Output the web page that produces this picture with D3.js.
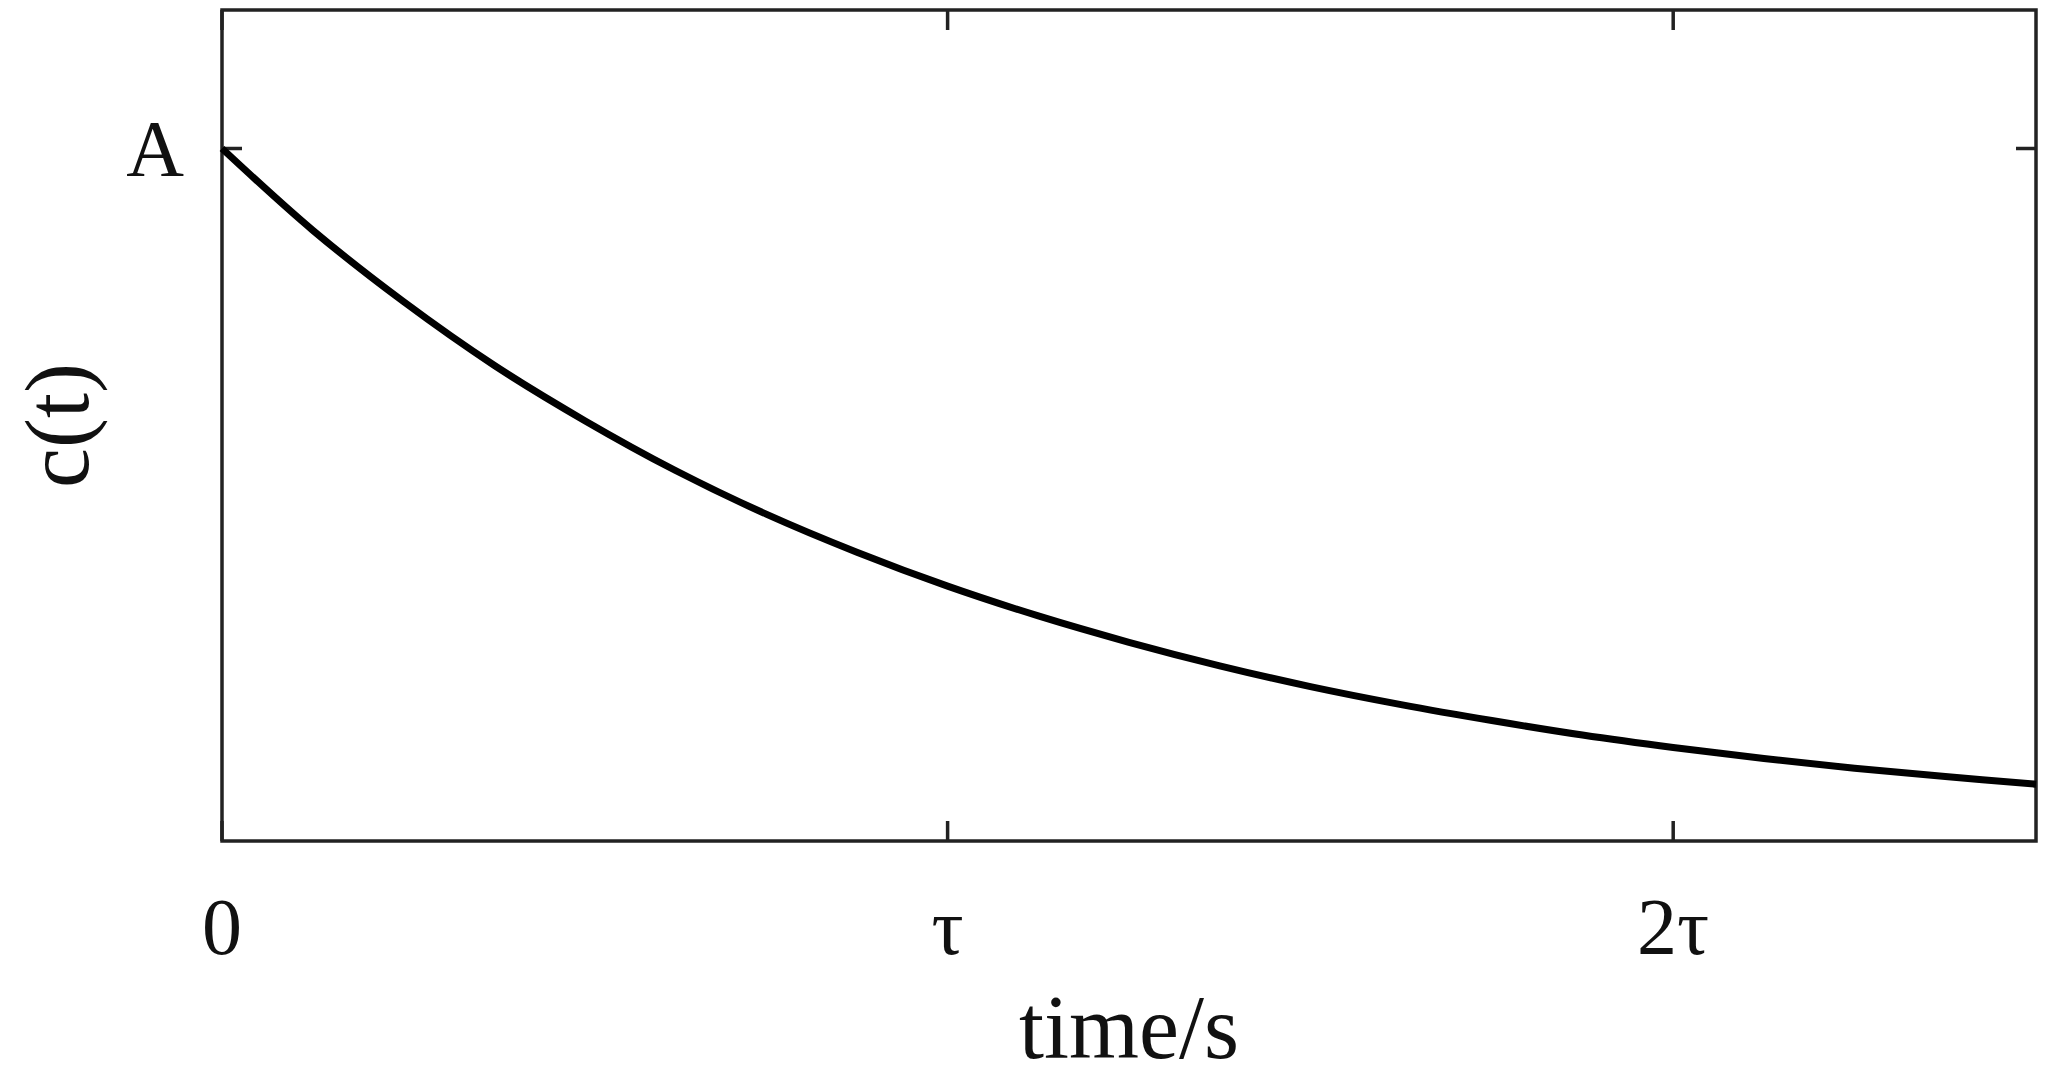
<!DOCTYPE html>
<html>
<head>
<meta charset="utf-8">
<script src="https://cdn.jsdelivr.net/npm/d3@7"></script>
<style>
  body { margin: 0; background: #fff; }
  text { font-family: "Liberation Serif", "DejaVu Serif", serif; fill: #111; }
</style>
</head>
<body>
<svg id="chart" width="2046" height="1079"></svg>
<script>
// time in units of tau, values in units of A
var times = [0, 0.125, 0.25, 0.375, 0.5, 0.625, 0.75, 0.875, 1, 1.125, 1.25,
             1.375, 1.5, 1.625, 1.75, 1.875, 2, 2.125, 2.25, 2.375, 2.5];
var values = [1, 0.882, 0.779, 0.687, 0.607, 0.535, 0.472, 0.417, 0.368, 0.325, 0.287,
              0.253, 0.223, 0.197, 0.174, 0.153, 0.135, 0.119, 0.105, 0.093, 0.082];
var xTicks = [0, 1, 2];
var xTickLabels = ["0", "τ", "2τ"];
var yTicks = [1];
var yTickLabels = ["A"];

var margin = {left: 222, right: 10, top: 10, bottom: 238};
var width = 2046, height = 1079;
var svg = d3.select("#chart");

var x = d3.scaleLinear().domain([0, 2.5]).range([margin.left, width - margin.right]);
var y = d3.scaleLinear().domain([0, 1.2]).range([height - margin.bottom, margin.top]);

var tickLen = 20;
// frame
svg.append("rect")
  .attr("x", x(0)).attr("y", y(1.2))
  .attr("width", x(2.5) - x(0)).attr("height", y(0) - y(1.2))
  .attr("fill", "none").attr("stroke", "#222").attr("stroke-width", 3.5);

// inward ticks, all four sides
xTicks.forEach(function(t) {
  svg.append("line").attr("x1", x(t)).attr("x2", x(t))
    .attr("y1", y(0)).attr("y2", y(0) - tickLen).attr("stroke", "#222").attr("stroke-width", 3.5);
  svg.append("line").attr("x1", x(t)).attr("x2", x(t))
    .attr("y1", y(1.2)).attr("y2", y(1.2) + tickLen).attr("stroke", "#222").attr("stroke-width", 3.5);
});
yTicks.forEach(function(v) {
  svg.append("line").attr("x1", x(0)).attr("x2", x(0) + tickLen)
    .attr("y1", y(v)).attr("y2", y(v)).attr("stroke", "#222").attr("stroke-width", 3.5);
  svg.append("line").attr("x1", x(2.5)).attr("x2", x(2.5) - tickLen)
    .attr("y1", y(v)).attr("y2", y(v)).attr("stroke", "#222").attr("stroke-width", 3.5);
});

// tick labels
svg.selectAll(".xl").data(xTicks).enter().append("text")
  .attr("x", d => x(d)).attr("y", y(0) + 113)
  .attr("text-anchor", "middle").attr("font-size", 80)
  .text((d, i) => xTickLabels[i]);
svg.selectAll(".yl").data(yTicks).enter().append("text")
  .attr("x", x(0) - 38).attr("y", d => y(d) + 27)
  .attr("text-anchor", "end").attr("font-size", 80)
  .text((d, i) => yTickLabels[i]);

// axis labels
svg.append("text").attr("x", (x(0) + x(2.5)) / 2).attr("y", 1058)
  .attr("text-anchor", "middle").attr("font-size", 90).text("time/s");
svg.append("text").attr("transform", "translate(88," + (y(0) + y(1.2)) / 2 + ") rotate(-90)")
  .attr("text-anchor", "middle").attr("font-size", 90).text("c(t)");

// curve
var line = d3.line().x((d, i) => x(times[i])).y(d => y(d)).curve(d3.curveCatmullRom);
svg.append("path").datum(values)
  .attr("d", line).attr("fill", "none").attr("stroke", "#000").attr("stroke-width", 7);
</script>
</body>
</html>
